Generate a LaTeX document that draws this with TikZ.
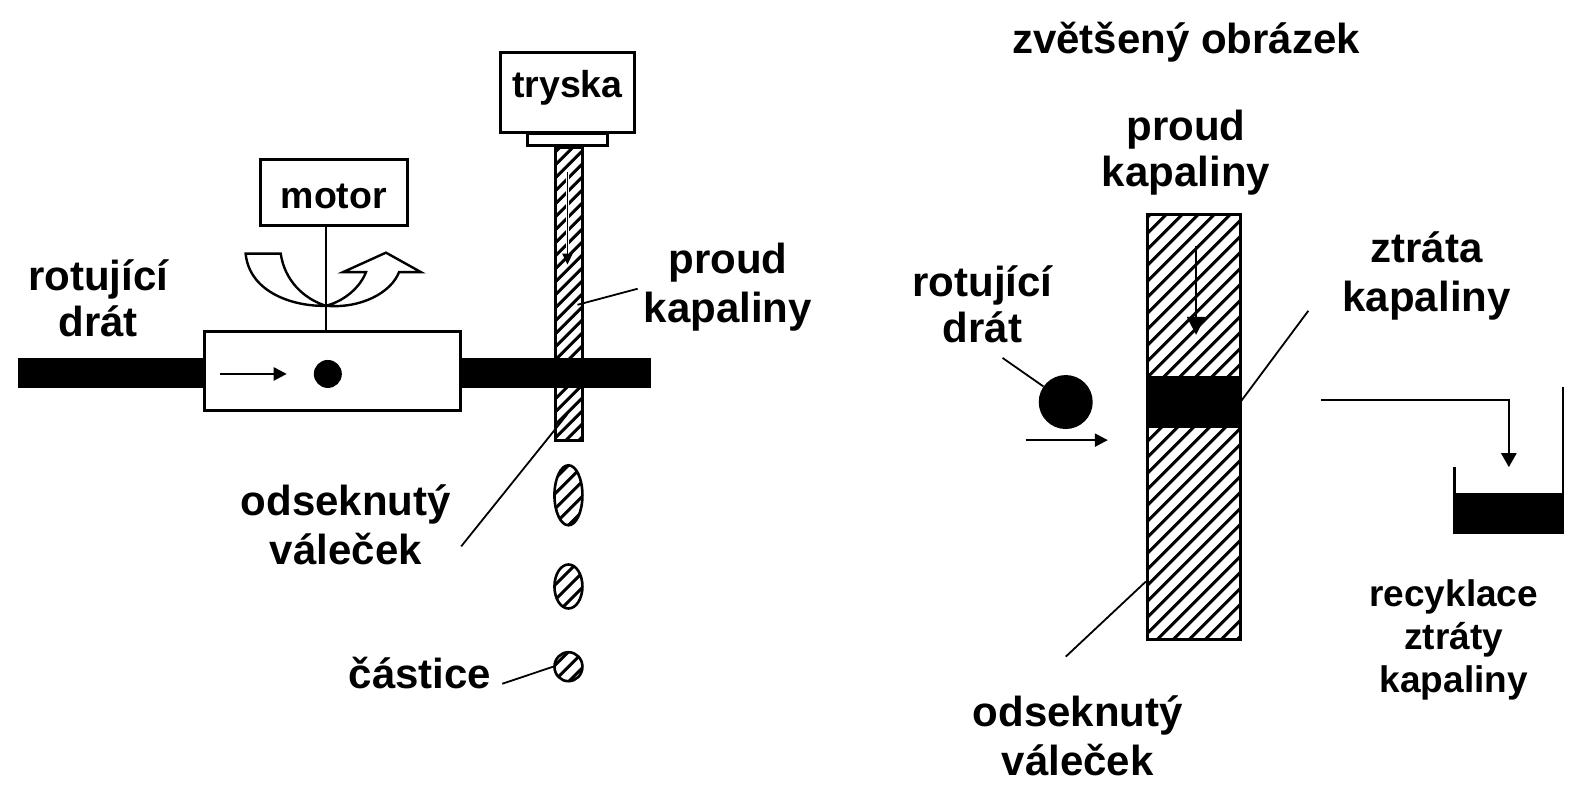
\documentclass[tikz,border=0pt]{standalone}
\usepackage{fontspec}
\setmainfont{Liberation Sans}
\usetikzlibrary{arrows.meta,shapes.geometric}
\tikzset{
  x=1.0026pt,y=-1.0026pt,
  lab/.style={font=\bfseries\fontsize{42}{49}\selectfont,align=center,inner sep=0pt,text=black},
  smalllab/.style={font=\bfseries\fontsize{37}{43}\selectfont,align=center,inner sep=0pt,text=black},
  boxlab/.style={font=\bfseries\fontsize{37.5}{40}\selectfont},
  boxw/.style={draw,line width=3pt,fill=white,inner sep=0pt,outer sep=0pt},
  solid band/.style={fill=black,inner sep=0pt,outer sep=0pt},
  thin conn/.style={line width=1.8pt},
  hatchy/.style={path picture={
    \foreach \k in {-40,...,40}{
      \draw[line width=3pt]
        ([xshift=\k*#1 pt]path picture bounding box.center) ++(-500pt,-500pt) -- ++(1000pt,1000pt);
    }}},
  arr/.style={line width=2.4pt,-{Triangle[length=13pt,width=13pt]}},
}
\begin{document}
\begin{tikzpicture}
\useasboundingbox (0,0) rectangle (1568,798);
\fill[white] (0,0) rectangle (1568,798);
% --- left: wire
\node[solid band,minimum width=186pt,minimum height=30pt] (wireL) at (110.5,372) {};
% jet
\node[boxw,line width=3.4pt,minimum width=27pt,minimum height=293pt,hatchy=13] (jetL) at (567.5,293.5) {};
\node[solid band,minimum width=191pt,minimum height=30pt] (wireR) at (554,372) {};
\node[boxw,minimum width=256pt,minimum height=79pt] (holder) at (332,370.5) {};
\node[boxw,boxlab,minimum width=147pt,minimum height=66pt] (motor) at (333,192.5) {\raisebox{-16pt}[0pt][0pt]{motor}};
\node[boxw,boxlab,minimum width=134pt,minimum height=80pt] (nozzle) at (566,92.5) {\raisebox{-5pt}[0pt][0pt]{tryska}};
\node[boxw,minimum width=80pt,minimum height=12pt] (tip) at (566.5,139.5) {};
\draw[line width=2.6pt] (motor.south -| 325,0) -- (325,330) coordinate (stemEnd);
\coordinate (hub) at (325,305);
\draw[line width=2.4pt,line join=miter] (hub) .. controls (295,306) and (249,293) .. (245,253) -- (280,253) .. controls (284,280) and (303,298) .. (hub);
\draw[line width=2.4pt,line join=miter] (hub) .. controls (360,308) and (390,292) .. (398,271.5) -- (420,271.5) -- (385,252) -- (342,271.5) -- (365,271.5) .. controls (360,285) and (345,300) .. (hub);
\node[circle,fill=black,minimum size=28pt,inner sep=0pt] (dotL) at (327,373) {};
\coordinate (arrLa) at (219,373);
\coordinate (arrLb) at (286,373);
\draw[arr] (arrLa) -- (arrLb);
\coordinate (jetA) at (566,172);
\coordinate (jetB) at (566,264);
\draw[line width=3pt,white] (jetA) -- (jetB);
\draw[line width=1.8pt,-{Triangle[length=11pt,width=10pt]}] (jetA) -- (jetB);
% droplets
\node[ellipse,draw,line width=2.6pt,minimum width=28pt,minimum height=60pt,inner sep=0pt,hatchy=15] (d1) at (567,494) {};
\node[ellipse,draw,line width=2.6pt,minimum width=28pt,minimum height=44pt,inner sep=0pt,hatchy=15] (d2) at (567,585) {};
\node[ellipse,draw,line width=2.6pt,minimum width=28pt,minimum height=29pt,inner sep=0pt,hatchy=15] (d3) at (567,665) {};
% labels
\node[lab] (l1) at (98,298) {rotující\\[-3pt]drát};
\node[lab] (l2) at (726,286) {proud\\kapaliny};
\node[lab] (l3) at (345,523) {odseknutý\\váleček};
\node[lab] (l4) at (419,671) {částice};
\coordinate (p2) at (636,288);
\draw[thin conn] (p2) -- (576,304);
\coordinate (p3) at (460,545);
\draw[thin conn] (p3) -- (566,413);
\coordinate (p4) at (501,682);
\draw[thin conn] (p4) -- (d3.west);
% --- right
\node[lab] (t) at (1183,42) {zvětšený obrázek};
\node[boxw,minimum width=93pt,minimum height=425pt,hatchy=16] (jetR) at (1191,425.5) {};
\node[solid band,minimum width=93pt,minimum height=52pt] (band) at (1191,401) {};
\node[circle,fill=black,minimum size=54pt,inner sep=0pt] (wireC) at (1063,401) {};
\coordinate (a1) at (1023,439);
\coordinate (a2) at (1105,439);
\draw[arr] (a1) -- (a2);
\coordinate (a3) at (1193,245);
\coordinate (a4) at (1193,334);
\draw[line width=2.4pt,-{Triangle[length=18pt,width=18pt]}] (a3) -- (a4);
\node[lab] (r1) at (1183,152) {proud\\[-3pt]kapaliny};
\node[lab] (r2) at (980,304) {rotující\\[-3pt]drát};
\node[lab] (r3) at (1423,275) {ztráta\\kapaliny};
\node[lab] (r4) at (1075,734) {odseknutý\\váleček};
\node[smalllab] (r5) at (1450,638) {recyklace\\ztráty\\kapaliny};
\coordinate (c1) at (1000,357);
\draw[thin conn] (c1) -- (wireC);
\coordinate (c2) at (1305,310);
\draw[thin conn] (c2) -- (1238,400);
\coordinate (c3) at (1063,655);
\draw[thin conn] (c3) -- (1143,580);
% recycle
\coordinate (e1) at (1318,399);
\coordinate (e2) at (1505,399);
\coordinate (e3) at (1505,466);
\draw[line width=2.6pt,-{Triangle[length=14pt,width=15pt]}] (e1) -- (e2) -- (e3);
\node[solid band,minimum width=111pt,minimum height=41pt] (tank) at (1505,512.5) {};
\coordinate (t1) at (1451,466);
\coordinate (t2) at (1559,386);
\draw[line width=2.8pt] (t1) -- (t1 |- tank.north);
\draw[line width=2.8pt] (t2) -- (t2 |- tank.north);
\end{tikzpicture}
\end{document}
